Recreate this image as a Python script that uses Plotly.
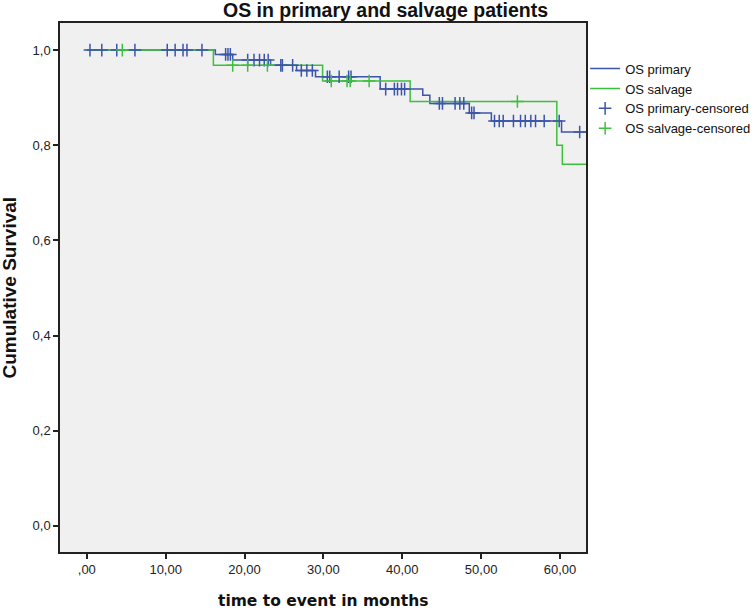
import plotly.graph_objects as go

# Kaplan-Meier steps (months, cumulative survival)
primary_t = [0, 16.3, 18.5, 23.3, 26.6, 29.0, 37.2, 42.6, 43.5, 48.5, 51.3, 60.2, 63.3]
primary_s = [1.0, 0.991, 0.979, 0.968, 0.957, 0.944, 0.918, 0.905, 0.888, 0.868, 0.851, 0.828, 0.828]

salvage_t = [0, 16.05, 29.9, 41.0, 59.6, 60.3, 63.3]
salvage_s = [1.0, 0.968, 0.935, 0.892, 0.800, 0.760, 0.760]

# censored observations
primary_cens_t = [0.4, 1.9, 3.8, 6.1, 10.2, 11.2, 12.2, 12.7, 14.6,
                  17.6, 17.9, 18.2,
                  20.4, 21.2, 21.9, 22.5, 23.0,
                  24.6, 24.8, 26.1,
                  27.2, 27.9, 28.6,
                  30.5, 30.8, 32.0, 33.2, 33.5,
                  37.9, 39.0, 39.4, 39.9, 40.3,
                  44.7, 45.1, 46.7, 47.3, 47.8,
                  48.8, 49.1,
                  51.7, 52.3, 52.8, 54.1, 55.0, 55.6, 56.3, 56.9, 58.0, 59.9,
                  62.5]
primary_cens_s = [1.0] * 9 + [0.991] * 3 + [0.979] * 5 + [0.968] * 3 + [0.957] * 3 \
    + [0.944] * 5 + [0.918] * 5 + [0.888] * 5 + [0.868] * 2 + [0.851] * 10 + [0.828]

salvage_cens_t = [4.5, 18.5, 20.4, 22.9, 31.0, 33.0, 33.4, 35.8, 54.6]
salvage_cens_s = [1.0, 0.968, 0.968, 0.968, 0.935, 0.935, 0.935, 0.935, 0.892]

x_ticks = [0, 10, 20, 30, 40, 50, 60]
x_labels = [",00", "10,00", "20,00", "30,00", "40,00", "50,00", "60,00"]
y_ticks = [0.0, 0.2, 0.4, 0.6, 0.8, 1.0]
y_labels = ["0,0", "0,2", "0,4", "0,6", "0,8", "1,0"]

blue = "#3b55aa"
green = "#3cc03c"

fig = go.Figure()
fig.add_trace(go.Scatter(x=primary_t, y=primary_s, mode="lines", line_shape="hv",
                         line=dict(color=blue, width=1.5), name="OS primary"))
fig.add_trace(go.Scatter(x=salvage_t, y=salvage_s, mode="lines", line_shape="hv",
                         line=dict(color=green, width=1.5), name="OS salvage"))
fig.add_trace(go.Scatter(x=primary_cens_t, y=primary_cens_s, mode="markers",
                         marker=dict(symbol="cross-thin", size=9, line=dict(color=blue, width=1.5)),
                         name="OS primary-censored"))
fig.add_trace(go.Scatter(x=salvage_cens_t, y=salvage_cens_s, mode="markers",
                         marker=dict(symbol="cross-thin", size=9, line=dict(color=green, width=1.5)),
                         name="OS salvage-censored"))

arial = "Liberation Sans, Arial, sans-serif"

fig.update_layout(
    width=755,
    height=609,
    paper_bgcolor="white",
    plot_bgcolor="#f0f0f0",
    margin=dict(l=60, r=169, t=23, b=57, autoexpand=False),
    font=dict(family=arial, size=13, color="#222"),
    showlegend=True,
    legend=dict(xref="container", yref="container", x=0.775, xanchor="left",
                y=0.912, yanchor="top", font=dict(size=13, color="#111"),
                tracegroupgap=0, bgcolor="rgba(0,0,0,0)", itemwidth=30),
    xaxis=dict(range=[-3.4, 63.3], tickvals=x_ticks, ticktext=x_labels,
               showgrid=False, zeroline=False, showline=True, linecolor="#222",
               linewidth=1.5, mirror=True, ticks="outside", ticklen=5,
               tickcolor="#222", tickwidth=1.5),
    yaxis=dict(range=[-0.055, 1.057], tickvals=y_ticks, ticktext=y_labels,
               showgrid=False, zeroline=False, showline=True, linecolor="#222",
               linewidth=1.5, mirror=True, ticks="outside", ticklen=5,
               tickcolor="#222", tickwidth=1.5),
    annotations=[
        dict(text="<b>OS in primary and salvage patients</b>", xref="paper", yref="paper",
             x=0.618, y=1.0, yanchor="middle", yshift=13, showarrow=False,
             font=dict(family=arial, size=19.5, color="#111")),
        dict(text="<b>time to event in months</b>", xref="paper", yref="paper",
             x=0.5, y=0, yanchor="middle", yshift=-49, showarrow=False,
             font=dict(family="DejaVu Sans, sans-serif", size=15.5, color="#111")),
        dict(text="<b>Cumulative Survival</b>", xref="paper", yref="paper",
             x=0, xshift=-51, y=0.5, xanchor="center", yanchor="middle", textangle=-90,
             showarrow=False, font=dict(family=arial, size=19, color="#111")),
    ],
)

fig.write_html("out.html", config={"displayModeBar": False},
               post_script="document.body.style.margin='0';")
